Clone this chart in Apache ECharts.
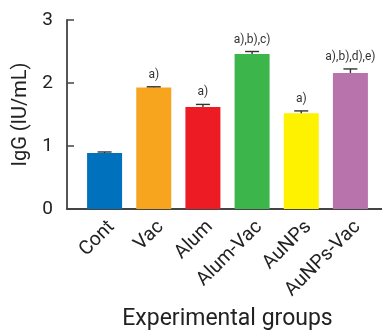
<!DOCTYPE html>
<html>
<head>
<meta charset="utf-8">
<script src="https://cdn.jsdelivr.net/npm/echarts@6/dist/echarts.min.js"></script>
<style>
html,body{margin:0;padding:0;background:#fff;}
#chart{width:382px;height:332px;}
</style>
</head>
<body>
<div id="chart"></div>
<script>
const categories = ['Cont', 'Vac', 'Alum', 'Alum-Vac', 'AuNPs', 'AuNPs-Vac'];
const values = [0.89, 1.93, 1.62, 2.46, 1.52, 2.16];
const errors = [0.015, 0.01, 0.04, 0.04, 0.037, 0.063];
const marks = ['', 'a)', 'a)', 'a),b),c)', 'a)', 'a),b),d),e)'];
const colors = ['#0071BC', '#F7A51E', '#ED1C24', '#3CB64A', '#FFF200', '#B873AD'];
const yTicks = [0, 1, 2, 3];

const chart = echarts.init(document.getElementById('chart'), null, {renderer: 'canvas'});
const axisColor = '#444';
const font = 'Roboto';

const option = {
  animation: false,
  grid: [
    {left: 80, right: 7, top: 20, bottom: 123, outerBoundsMode: 'none', containLabel: false},
    {left: 67, right: 0, top: 20, bottom: 123, outerBoundsMode: 'none', containLabel: false}
  ],
  xAxis: [
    {
      type: 'category', gridIndex: 0, data: categories,
      axisLine: {show: false},
      axisTick: {show: false},
      axisLabel: {rotate: 45, fontSize: 19.5, color: '#222', fontFamily: font, margin: 8, interval: 0, verticalAlign: 'top'},
      name: 'Experimental groups', nameLocation: 'middle', nameGap: 99,
      nameTextStyle: {fontSize: 23, color: '#222', fontFamily: font}
    },
    {
      type: 'value', gridIndex: 1, min: 0, max: 1,
      axisLine: {show: true, lineStyle: {color: axisColor, width: 1.8}},
      axisTick: {show: false}, axisLabel: {show: false}, splitLine: {show: false}
    }
  ],
  yAxis: [
    {
      type: 'value', gridIndex: 0, min: yTicks[0], max: yTicks[yTicks.length - 1], interval: 1,
      offset: 13,
      axisLine: {show: true, lineStyle: {color: axisColor, width: 1.8}},
      axisTick: {show: true, inside: true, length: 7, lineStyle: {color: axisColor, width: 1.5}},
      axisLabel: {fontSize: 19, color: '#222', fontFamily: font, margin: 14},
      splitLine: {show: false},
      name: 'IgG (IU/mL)', nameLocation: 'middle', nameGap: 35,
      nameTextStyle: {fontSize: 20, color: '#222', fontFamily: font}
    },
    {
      type: 'value', gridIndex: 1, show: false, min: 0, max: 1
    }
  ],
  series: [
    {
      type: 'bar', xAxisIndex: 0, yAxisIndex: 0, barWidth: 35,
      data: values.map((v, i) => ({value: v, itemStyle: {color: colors[i]}}))
    },
    {
      type: 'custom', xAxisIndex: 0, yAxisIndex: 0,
      data: values.map((v, i) => [i, v, errors[i]]),
      renderItem: function (params, api) {
        const i = api.value(0);
        const v = api.value(1);
        const e = api.value(2);
        const top = api.coord([i, v + e]);
        const bot = api.coord([i, v - e]);
        const hw = 7;
        const style = {stroke: '#333', lineWidth: 1.4};
        return {
          type: 'group',
          children: [
            {type: 'line', shape: {x1: top[0], y1: top[1], x2: bot[0], y2: bot[1]}, style: style},
            {type: 'line', shape: {x1: top[0] - hw, y1: top[1], x2: top[0] + hw, y2: top[1]}, style: style},
            {type: 'line', shape: {x1: bot[0] - hw, y1: bot[1], x2: bot[0] + hw, y2: bot[1]}, style: style},
            {type: 'text', style: {
              text: marks[params.dataIndex], x: top[0], y: top[1] - 12,
              align: 'center', verticalAlign: 'middle',
              fontSize: 12, fontFamily: 'Roboto', fill: '#333'
            }}
          ]
        };
      }
    }
  ]
};
chart.setOption(option);
</script>
</body>
</html>
